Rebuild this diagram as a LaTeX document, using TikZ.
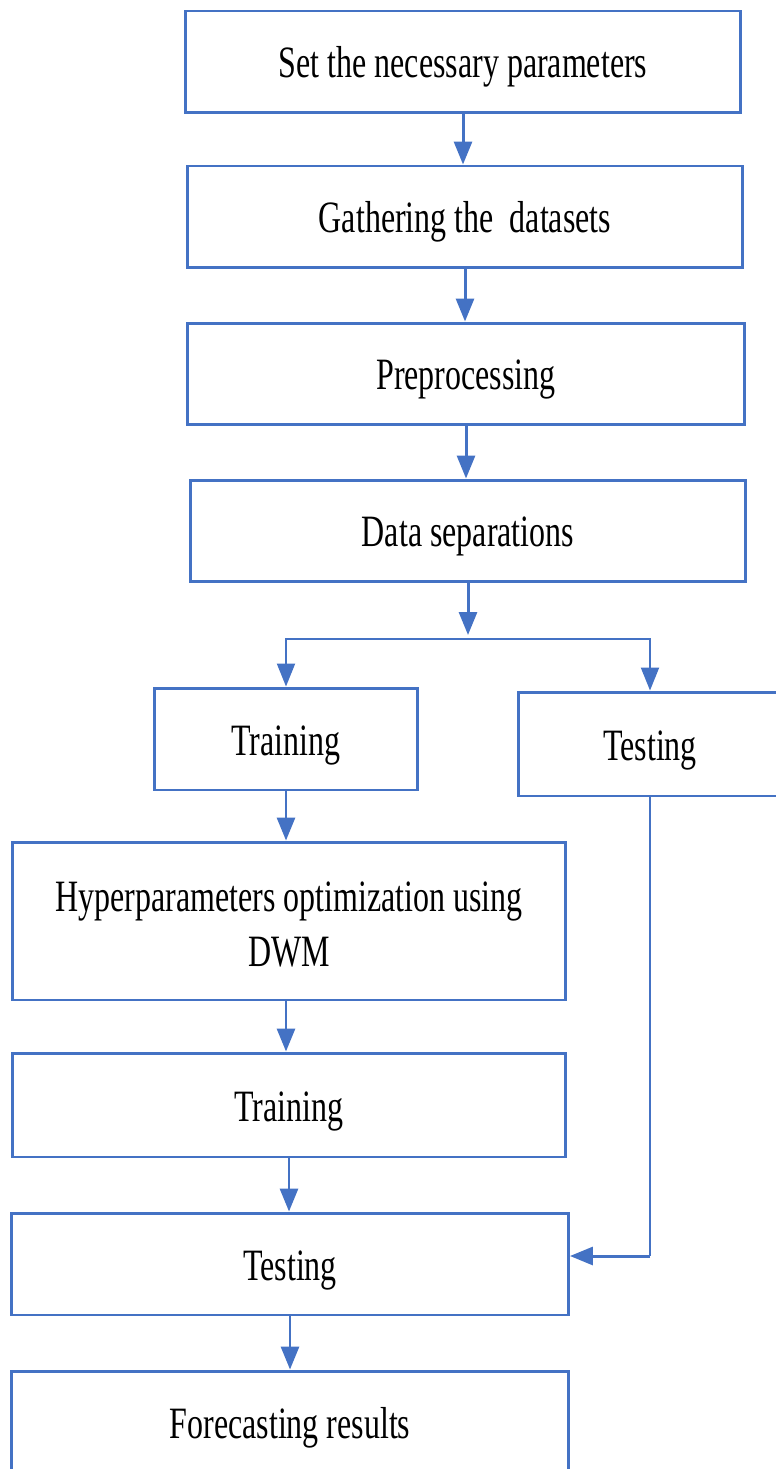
\documentclass[tikz,border=0pt]{standalone}
\usepackage{fontspec}
\setmainfont{Liberation Serif}
\usetikzlibrary{arrows.meta}
\definecolor{boxblue}{HTML}{4472C4}
\newcommand{\sq}[1]{\scalebox{0.714}[1]{#1}}

\begin{document}
\begin{tikzpicture}[x=0.02cm,y=-0.02cm,
  box/.style={draw=boxblue,line width=1.7pt,fill=white,minimum height=2.04cm,
    inner sep=0pt,align=center,text height=0.64cm,text depth=0pt,
    font=\fontsize{25.5}{31}\selectfont},
  arr/.style={draw=boxblue,line width=1.7pt,-{Triangle[width=0.36cm,length=0.46cm]}},
  thinarr/.style={arr,line width=1.2pt}]
  \useasboundingbox (0,0) rectangle (775,1469);
  \node[box,minimum width=11.12cm] (set) at (463,62) {\sq{Set the necessary parameters}};
  \node[box,minimum width=11.12cm] (gather) at (465,217) {\sq{Gathering the\ \ datasets}};
  \node[box,minimum width=11.14cm] (prep) at (466,374) {\sq{Preprocessing}};
  \node[box,minimum width=11.12cm] (sep) at (468,531) {\sq{Data separations}};
  \node[box,minimum width=5.28cm] (trainA) at (286,739) {\sq{Training}};
  \node[box,minimum width=5.28cm,minimum height=2.08cm] (testA) at (650,744) {\sq{Testing}};
  \node[box,minimum width=11.08cm,minimum height=3.16cm,text height=1.8cm] (hyper) at (289,921)
    {\sq{Hyperparameters optimization using}\\\sq{DWM}};
  \node[box,minimum width=11.08cm,minimum height=2.08cm] (trainB) at (289,1105) {\sq{Training}};
  \node[box,minimum width=11.14cm] (testB) at (290,1264) {\sq{Testing}};
  \node[box,minimum width=11.14cm] (fore) at (290,1422) {\sq{Forecasting results}};
  \coordinate (forktip) at (468,635);
  \coordinate (fork) at (468,639);
  \coordinate (bend) at (650,1256);
  \draw[arr] (set.south) -- (set.south |- gather.north);
  \draw[arr] (gather.south) -- (gather.south |- prep.north);
  \draw[arr] (prep.south) -- (prep.south |- sep.north);
  \draw[arr] (sep.south) -- (forktip);
  \draw[thinarr] (fork) -| (trainA.north);
  \draw[thinarr] (fork) -| (testA.north);
  \draw[arr] (trainA.south) -- (trainA.south |- hyper.north);
  \draw[arr] (trainA.south |- hyper.south) -- (trainA.south |- trainB.north);
  \draw[arr] (trainB.south) -- (trainB.south |- testB.north);
  \draw[arr] (testB.south) -- (fore.north);
  \draw[draw=boxblue,line width=0.9pt] (testA.south) -- (bend);
  \draw[arr] (bend) -- (testB.east |- bend);
\end{tikzpicture}
\end{document}
